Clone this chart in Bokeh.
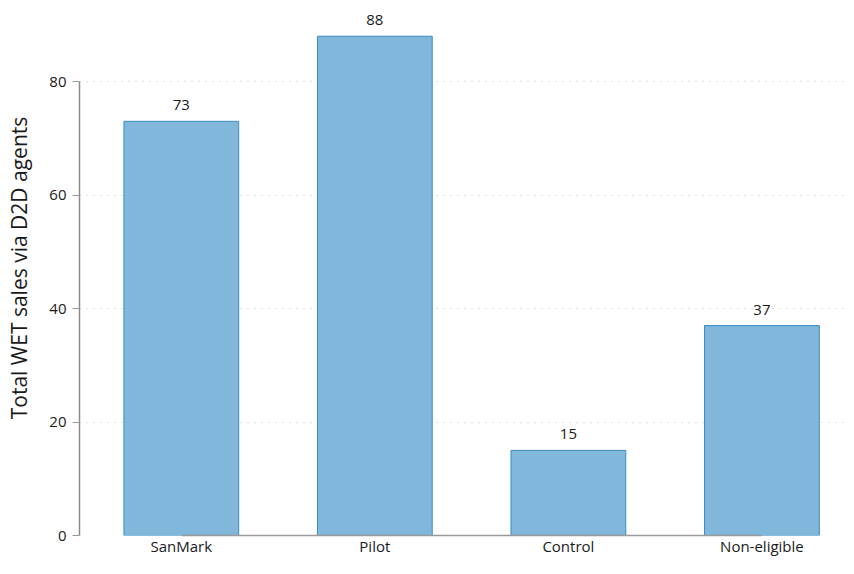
import numpy as np
from bokeh.plotting import figure
from bokeh.models import ColumnDataSource, Range1d, FixedTicker
from bokeh.core.properties import value
from bokeh.embed import file_html
from bokeh.resources import INLINE

categories = ["SanMark", "Pilot", "Control", "Non-eligible"]
sales = [73, 88, 15, 37]
y_ticks = [0, 20, 40, 60, 80]

FONT = "Open Sans"
pos = [float(i) + 0.5 for i in range(len(categories))]

src = ColumnDataSource(dict(x=pos, top=sales, label=[str(v) for v in sales]))

p = figure(width=846, height=558, output_backend="svg", toolbar_location=None,
           x_range=Range1d(-0.026, 3.937), y_range=Range1d(0, 94.3),
           min_border_left=79, min_border_right=0, min_border_top=0, min_border_bottom=0)
p.outline_line_color = None
p.background_fill_color = "white"
p.border_fill_color = "white"

p.vbar(x="x", top="top", bottom=0, width=0.593, source=src,
       fill_color="#80b7da", line_color="#3a8cc4", line_width=1)
p.text(x="x", y="top", text="label", source=src, y_offset=-11,
       text_align="center", text_baseline="bottom", text_font=value(FONT),
       text_font_size="15px", text_color="#1a1a1a")

p.xgrid.grid_line_color = None
p.ygrid.ticker = FixedTicker(ticks=y_ticks)
p.ygrid.grid_line_color = "#c4c4c4"
p.ygrid.grid_line_dash = "1 6"
p.ygrid.grid_line_width = 1

xa = p.xaxis[0]
xa.ticker = FixedTicker(ticks=pos)
xa.major_label_overrides = {x: c for x, c in zip(pos, categories)}
xa.bounds = (pos[0], pos[-1])
xa.axis_line_color = "#9a9a9a"
xa.axis_line_width = 1.5
xa.major_tick_line_color = None
xa.major_tick_out = 0
xa.major_tick_in = 0
xa.minor_tick_line_color = None
xa.major_label_standoff = 0
xa.axis_label_standoff = 0
xa.major_label_text_font = FONT
xa.major_label_text_font_size = "15px"
xa.major_label_text_color = "#1a1a1a"

ya = p.yaxis[0]
ya.ticker = FixedTicker(ticks=y_ticks)
ya.bounds = (y_ticks[0], y_ticks[-1])
ya.axis_line_color = "#8a8a8a"
ya.axis_line_width = 1.5
ya.major_tick_line_color = "#9a9a9a"
ya.major_tick_out = 7
ya.major_tick_in = 0
ya.minor_tick_line_color = None
ya.major_label_standoff = 6
ya.major_label_text_font = FONT
ya.major_label_text_font_size = "15px"
ya.major_label_text_color = "#1a1a1a"
ya.axis_label = "Total WET sales via D2D agents"
ya.axis_label_text_font = FONT
ya.axis_label_text_font_style = "normal"
ya.axis_label_text_font_size = "21px"
ya.axis_label_text_color = "#1a1a1a"
ya.axis_label_standoff = 13

open("out.html", "w").write(file_html(p, INLINE))
